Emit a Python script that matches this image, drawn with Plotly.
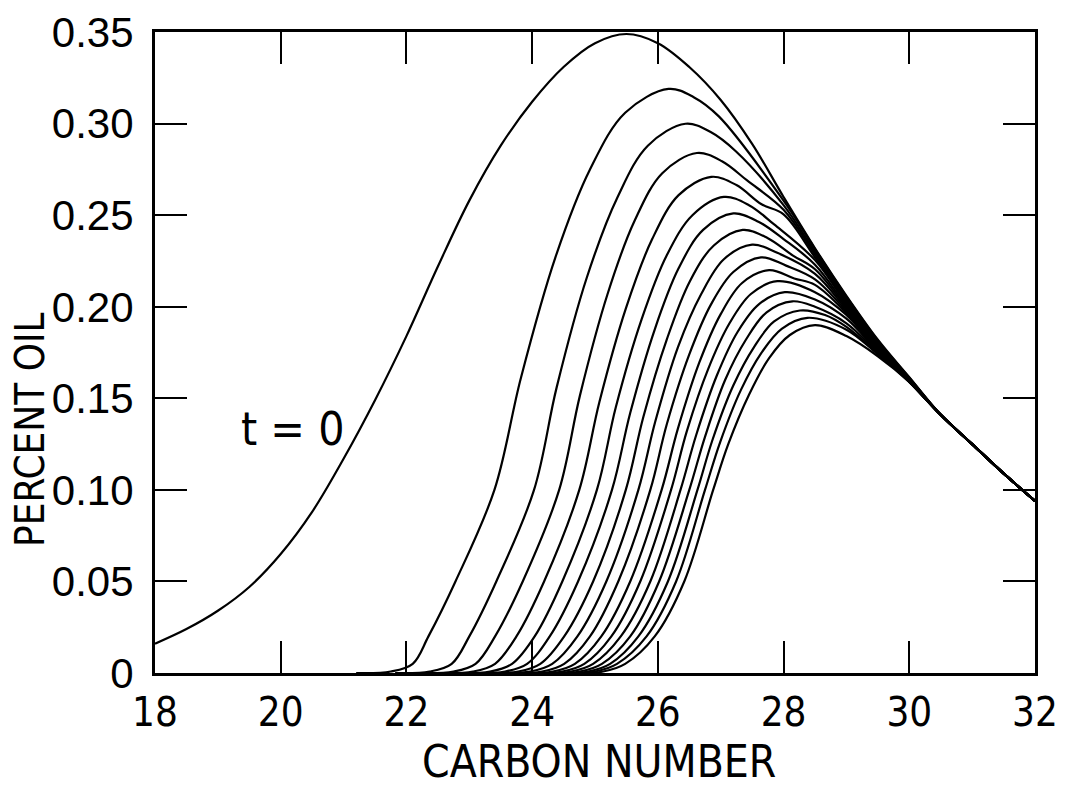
import plotly.graph_objects as go

# ---- data ----
X_TICKS = [18, 20, 22, 24, 26, 28, 30, 32]
Y_TICKS = [0, 0.05, 0.10, 0.15, 0.20, 0.25, 0.30, 0.35]
Y_TICK_TEXT = ["0", "0.05", "0.10", "0.15", "0.20", "0.25", "0.30", "0.35"]

# t = 0 curve
T0_X = [18.0, 18.5, 19.0, 19.5, 20.0, 20.5, 21.0, 21.5, 22.0, 22.5, 23.0, 23.5, 24.0,
        24.5, 25.0, 25.5, 26.0, 26.5, 27.0, 27.5, 28.0, 28.5, 29.0, 29.5, 30.0]
T0_Y = [0.016, 0.024, 0.034, 0.047, 0.065, 0.088, 0.117, 0.149, 0.184, 0.222, 0.258, 0.288, 0.312,
        0.331, 0.344, 0.349, 0.344, 0.331, 0.313, 0.289, 0.260, 0.232, 0.206, 0.182, 0.1615]

# common tail shared by every curve
TAIL_X = [30.5, 31.0, 31.5, 32.0]
TAIL_Y = [0.141, 0.125, 0.109, 0.094]

# later time curves (x, y points up to x = 30)
CURVES_X = [
    [21.20, 21.75, 22.10, 22.35, 22.78, 23.40, 23.82, 24.37, 24.92, 25.48, 26.17, 26.57, 26.97, 28.0, 28.5, 29.0, 29.5, 30.0],
    [21.82, 22.37, 22.72, 23.00, 23.43, 24.03, 24.39, 24.87, 25.36, 25.84, 26.44, 26.84, 27.24, 28.0, 28.5, 29.0, 29.5, 30.0],
    [22.20, 22.75, 23.10, 23.41, 23.85, 24.43, 24.76, 25.20, 25.63, 26.07, 26.62, 27.02, 27.42, 28.0, 28.5, 29.0, 29.5, 30.0],
    [22.51, 23.06, 23.41, 23.75, 24.19, 24.75, 25.07, 25.49, 25.91, 26.33, 26.85, 27.25, 27.65, 28.0, 28.5, 29.0, 29.5, 30.0],
    [22.78, 23.33, 23.68, 24.04, 24.48, 25.03, 25.33, 25.74, 26.14, 26.55, 27.05, 27.45, 27.85, 28.5, 29.0, 29.5, 30.0],
    [23.02, 23.57, 23.92, 24.28, 24.73, 25.27, 25.56, 25.95, 26.33, 26.72, 27.20, 27.60, 28.0, 28.5, 29.0, 29.5, 30.0],
    [23.23, 23.78, 24.13, 24.51, 24.97, 25.49, 25.77, 26.14, 26.51, 26.89, 27.35, 27.75, 28.15, 28.5, 29.0, 29.5, 30.0],
    [23.42, 23.97, 24.32, 24.72, 25.18, 25.69, 25.96, 26.32, 26.69, 27.05, 27.50, 27.90, 28.5, 29.0, 29.5, 30.0],
    [23.61, 24.16, 24.51, 24.92, 25.37, 25.88, 26.14, 26.50, 26.85, 27.20, 27.64, 28.04, 28.5, 29.0, 29.5, 30.0],
    [23.78, 24.33, 24.68, 25.10, 25.56, 26.06, 26.32, 26.66, 27.00, 27.34, 27.77, 28.17, 28.5, 29.0, 29.5, 30.0],
    [23.93, 24.48, 24.83, 25.26, 25.72, 26.21, 26.46, 26.80, 27.14, 27.48, 27.90, 28.5, 29.0, 29.5, 30.0],
    [24.07, 24.62, 24.97, 25.41, 25.88, 26.36, 26.61, 26.94, 27.27, 27.61, 28.02, 28.5, 29.0, 29.5, 30.0],
    [24.21, 24.76, 25.11, 25.56, 26.02, 26.50, 26.75, 27.07, 27.40, 27.73, 28.14, 28.5, 29.0, 29.5, 30.0],
    [24.34, 24.89, 25.24, 25.69, 26.16, 26.63, 26.87, 27.20, 27.53, 27.85, 28.26, 28.66, 29.0, 29.5, 30.0],
    [24.45, 25.00, 25.35, 25.82, 26.29, 26.75, 26.99, 27.32, 27.65, 27.97, 28.38, 29.0, 29.5, 30.0],
    [24.58, 25.13, 25.48, 25.95, 26.42, 26.88, 27.12, 27.45, 27.77, 28.10, 28.50, 29.0, 29.5, 30.0],
]
CURVES_Y = [
    [0, 0.0008, 0.005, 0.02, 0.05, 0.10, 0.161, 0.227, 0.275, 0.306, 0.319, 0.3145, 0.304, 0.258, 0.2315, 0.2055, 0.1815, 0.1613],
    [0, 0.0008, 0.005, 0.02, 0.05, 0.10, 0.156, 0.216, 0.260, 0.288, 0.300, 0.2955, 0.285, 0.2555, 0.230, 0.2045, 0.181, 0.1610],
    [0, 0.0008, 0.005, 0.02, 0.05, 0.10, 0.1515, 0.207, 0.247, 0.273, 0.284, 0.2795, 0.269, 0.253, 0.2285, 0.2035, 0.180, 0.1608],
    [0, 0.0008, 0.005, 0.02, 0.05, 0.10, 0.148, 0.199, 0.237, 0.261, 0.271, 0.2665, 0.256, 0.2505, 0.227, 0.2025, 0.1795, 0.1605],
    [0, 0.0008, 0.005, 0.02, 0.05, 0.10, 0.145, 0.193, 0.228, 0.250, 0.260, 0.2555, 0.245, 0.2255, 0.2015, 0.179, 0.1603],
    [0, 0.0008, 0.005, 0.02, 0.05, 0.10, 0.142, 0.1876, 0.221, 0.242, 0.251, 0.2465, 0.237, 0.223, 0.2005, 0.1785, 0.1600],
    [0, 0.0008, 0.005, 0.02, 0.05, 0.10, 0.140, 0.182, 0.214, 0.2335, 0.242, 0.2375, 0.228, 0.2205, 0.1995, 0.178, 0.1598],
    [0, 0.0008, 0.005, 0.02, 0.05, 0.10, 0.1375, 0.178, 0.207, 0.226, 0.234, 0.2295, 0.218, 0.1985, 0.1775, 0.1596],
    [0, 0.0008, 0.005, 0.02, 0.05, 0.10, 0.1356, 0.174, 0.2016, 0.219, 0.227, 0.2225, 0.215, 0.1975, 0.177, 0.1594],
    [0, 0.0008, 0.005, 0.02, 0.05, 0.10, 0.1336, 0.1696, 0.196, 0.213, 0.220, 0.2155, 0.212, 0.1965, 0.1765, 0.1593],
    [0, 0.0008, 0.005, 0.02, 0.05, 0.10, 0.132, 0.166, 0.191, 0.207, 0.214, 0.208, 0.1955, 0.176, 0.1592],
    [0, 0.0008, 0.005, 0.02, 0.05, 0.10, 0.130, 0.1626, 0.1864, 0.2015, 0.208, 0.204, 0.1935, 0.1755, 0.1591],
    [0, 0.0008, 0.005, 0.02, 0.05, 0.10, 0.129, 0.160, 0.182, 0.197, 0.203, 0.200, 0.191, 0.175, 0.1590],
    [0, 0.0008, 0.005, 0.02, 0.05, 0.10, 0.1274, 0.157, 0.178, 0.192, 0.198, 0.1955, 0.189, 0.1745, 0.1590],
    [0, 0.0008, 0.005, 0.02, 0.05, 0.10, 0.126, 0.1545, 0.175, 0.188, 0.194, 0.1875, 0.174, 0.1590],
    [0, 0.0008, 0.005, 0.02, 0.05, 0.10, 0.125, 0.152, 0.172, 0.1846, 0.190, 0.184, 0.173, 0.1590],
]

LABEL_TEXT = "t = 0"
LABEL_POS = (20.2, 0.133)
X_TITLE = "CARBON NUMBER"
Y_TITLE = "PERCENT OIL"

NARROW = "DejaVu Sans Condensed, Liberation Sans Narrow, Arial Narrow, sans-serif"
REGULAR = "Liberation Sans, Arial, Helvetica, sans-serif"

fig = go.Figure()
line_style = dict(color="black", width=2.2, shape="spline", smoothing=1.0)

fig.add_trace(go.Scatter(x=T0_X + TAIL_X, y=T0_Y + TAIL_Y, mode="lines",
                         line=line_style, showlegend=False, hoverinfo="skip"))
for cx, cy in zip(CURVES_X, CURVES_Y):
    fig.add_trace(go.Scatter(x=cx + TAIL_X, y=cy + TAIL_Y, mode="lines",
                             line=line_style, showlegend=False, hoverinfo="skip"))

fig.add_annotation(x=LABEL_POS[0], y=LABEL_POS[1], text=LABEL_TEXT, showarrow=False,
                   font=dict(family=NARROW, size=46, color="black"))
fig.add_annotation(xref="paper", yref="paper", x=0.504, y=-0.138, text=X_TITLE,
                   showarrow=False, xanchor="center", yanchor="middle",
                   font=dict(family=NARROW, size=44, color="black"))
fig.add_annotation(xref="paper", yref="paper", x=-0.1414, y=0.38, text=Y_TITLE,
                   showarrow=False, xanchor="center", yanchor="middle", textangle=-90,
                   font=dict(family=NARROW, size=40, color="black"))

fig.update_xaxes(range=[18, 32], tickvals=X_TICKS, ticktext=[str(v) for v in X_TICKS],
                 ticks="inside", ticklen=32, tickwidth=2, tickcolor="black",
                 showline=True, linewidth=3, linecolor="black", mirror="ticks",
                 showgrid=False, zeroline=False, automargin=False, ticklabelstandoff=2,
                 ticklabeloverflow="allow",
                 tickfont=dict(family=NARROW, size=40, color="black"))
fig.update_yaxes(range=[0, 0.3501], tickvals=Y_TICKS, ticktext=Y_TICK_TEXT,
                 ticks="inside", ticklen=32, tickwidth=2, tickcolor="black",
                 showline=True, linewidth=3, linecolor="black", mirror="ticks",
                 showgrid=False, zeroline=False, automargin=False, ticklabelstandoff=10,
                 ticklabeloverflow="allow",
                 tickfont=dict(family=REGULAR, size=42, color="black"))

# the page adds an 8 px body margin, so the figure is sized to fit inside the window
fig.update_layout(width=1057, height=786, plot_bgcolor="white", paper_bgcolor="white",
                  margin=dict(l=147, r=30, t=24, b=121))

fig.write_html("out.html")
